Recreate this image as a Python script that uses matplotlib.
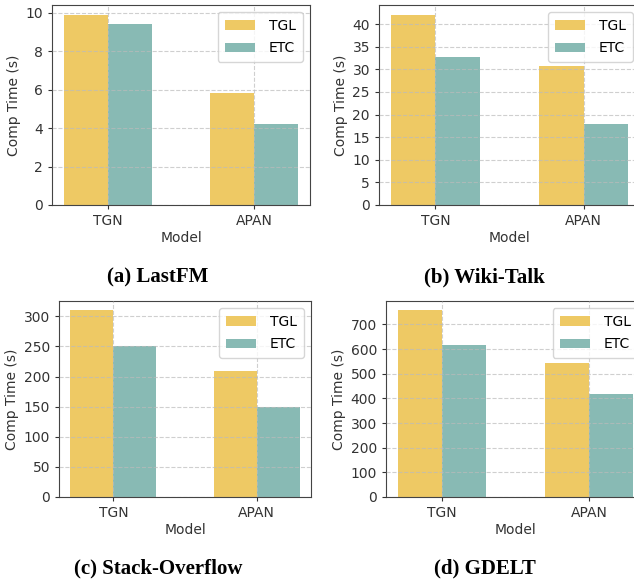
import matplotlib
matplotlib.use('Agg')
import matplotlib.pyplot as plt
from matplotlib.ticker import MultipleLocator
import numpy as np

models = ['TGN', 'APAN']
datasets = ['(a) LastFM', '(b) Wiki-Talk', '(c) Stack-Overflow', '(d) GDELT']
tgl = [[9.9, 5.8], [42.1, 30.8], [310, 210], [757, 545]]
etc = [[9.4, 4.2], [32.7, 18.0], [250, 150], [617, 417]]
ysteps = [2, 5, 50, 100]

plt.rcParams['font.family'] = 'DejaVu Sans'

# axes boxes in pixels: left, right, top, bottom
W, H = 634, 586
boxes = [(52, 310, 5, 205), (379, 640, 5, 205), (59, 311, 301, 497), (386, 645, 301, 497)]
captions_xy = [(158, 277), (484, 277), (158, 568), (485, 568)]

fig = plt.figure(figsize=(W / 100, H / 100), dpi=100)
width = 0.3
x = np.arange(len(models))

for i, (l, r, t, b) in enumerate(boxes):
    ax = fig.add_axes([l / W, 1 - b / H, (r - l) / W, (b - t) / H])
    ax.bar(x - width / 2, tgl[i], width, color='#EEC964', label='TGL')
    ax.bar(x + width / 2, etc[i], width, color='#88BAB4', label='ETC')
    ax.set_xticks(x)
    ax.set_xticklabels(models)
    ax.yaxis.set_major_locator(MultipleLocator(ysteps[i]))
    ax.set_xlabel('Model', fontsize=10, color='#333333', labelpad=2)
    ax.set_ylabel('Comp Time (s)', fontsize=10, color='#333333', labelpad=3)
    ax.tick_params(labelsize=10, colors='#333333', length=3)
    ax.set_axisbelow(False)
    ax.grid(True, linestyle='--', color='#bbbbbb', alpha=0.7, linewidth=0.8)
    for s in ax.spines.values():
        s.set_color('#444444')
    ax.legend(loc='upper right', fontsize=10, handlelength=2.2, borderpad=0.5,
              labelspacing=0.6, handletextpad=1.0, fancybox=True)
    fig.text(captions_xy[i][0] / W, 1 - captions_xy[i][1] / H, datasets[i],
             ha='center', va='center', fontsize=15, fontweight='bold',
             family='Liberation Serif')

fig.savefig('out.png', dpi=100)
